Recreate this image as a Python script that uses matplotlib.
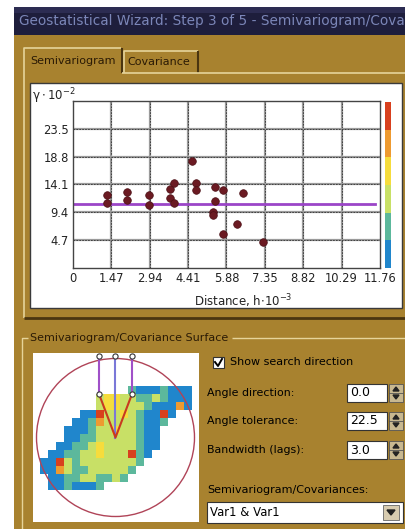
import matplotlib
matplotlib.use('Agg')
import matplotlib.pyplot as plt
import numpy as np
from matplotlib.patches import Rectangle, Circle, Polygon
from matplotlib.colors import ListedColormap

plt.rcParams['font.family'] = ['DejaVu Sans']
plt.rcParams['mathtext.default'] = 'regular'

# semivariogram cloud (distance * 1e-3, gamma * 1e-2)
dist = [1.29, 1.29, 2.07, 2.07, 2.91, 2.91, 3.70, 3.70, 3.87, 3.87, 4.54,
        4.70, 4.70, 5.44, 5.44, 5.36, 5.36, 5.73, 5.73, 6.27, 6.52, 7.29]
gamma = [12.25, 10.9, 12.9, 11.4, 12.4, 10.6, 13.3, 11.9, 14.4, 11.0, 18.0,
         14.4, 13.1, 13.65, 11.3, 9.45, 9.0, 13.1, 5.8, 7.5, 12.65, 4.4]
model_level = 10.85
model_end = 11.56

xticks = [0, 1.47, 2.94, 4.41, 5.88, 7.35, 8.82, 10.29, 11.76]
xlabels = ['0', '1.47', '2.94', '4.41', '5.88', '7.35', '8.82', '10.29', '11.76']
yticks = [4.7, 9.4, 14.1, 18.8, 23.5]
ylabels = ['4.7', '9.4', '14.1', '18.8', '23.5']

# colour scale (bottom -> top)
scale_colors = ['#2086cc', '#5cb89c', '#c8e066', '#f6dc3c', '#ee9a30', '#d8401e']

# surface cells: 0 empty, 1 blue ... 6 red
surface_rows = [
    "00000000000211121110",
    "00000003443322321110",
    "00000003443332111510",
    "00000116334321161000",
    "00001125333321120000",
    "00011123343321100000",
    "00011223333321100000",
    "00112234333321100000",
    "01122334333621000000",
    "11632333333320000000",
    "11532233333200000000",
    "01122332232000000000",
    "01121112000000000000",
]

angle_direction = '0.0'
angle_tolerance = '22.5'
bandwidth = '3.0'

W, H = 406, 529
GOLD = '#a8822f'
LIGHT = '#e6d49a'
DARK = '#4a3510'

fig = plt.figure(figsize=(W / 100, H / 100), dpi=100, facecolor='white')
ui = fig.add_axes([0, 0, 1, 1])
ui.set_xlim(0, W)
ui.set_ylim(H, 0)
ui.axis('off')


def px_axes(x0, y0, x1, y1):
    return fig.add_axes([x0 / W, 1 - y1 / H, (x1 - x0) / W, (y1 - y0) / H])


def box(x, y, w, h, fc, ec='none', lw=0):
    ui.add_patch(Rectangle((x, y), w, h, facecolor=fc, edgecolor=ec, lw=lw))


def line(xs, ys, c, lw=1):
    ui.plot(xs, ys, color=c, lw=lw, solid_capstyle='butt')


# window body and title bar
box(14, 7, W - 14, H - 7, GOLD)
box(14, 7, W - 14, 28, '#1e1e3c')
box(14, 7, W - 14, 6, '#2c2c52')
ui.text(19, 21, 'Geostatistical Wizard: Step 3 of 5 - Semivariogram/Cova',
        color='#7b86b8', fontsize=9.8, va='center', ha='left')

# tabs
box(24, 48, 98, 25, GOLD)
line([24, 24, 121], [73, 48, 48], LIGHT, 1.2)
line([122, 122], [48, 73], DARK, 1.5)
ui.text(30, 61, 'Semivariogram', fontsize=8, va='center', color='#2a1a05')
line([124, 124, 198], [73, 51, 51], LIGHT, 1.2)
line([198, 198], [51, 73], DARK, 1.5)
ui.text(127, 62, 'Covariance', fontsize=8, va='center', color='#2a1a05')
line([24, 24], [73, 318], LIGHT, 1.2)
line([122, W], [73, 73], LIGHT, 1.2)
line([24, W], [318, 318], DARK, 2)

# white plot panel
box(30, 83, 372, 225, 'white', '#3a3a3a', 1)

# semivariogram axes
ax = px_axes(73, 101, 380, 268)
ax.set_xlim(0, 11.76)
ax.set_ylim(0, 28.2)
for v in xticks[1:-1]:
    ax.axvline(v, color='#9a9a9a', lw=1.6, zorder=1)
    ax.axvline(v, color='#333333', lw=0.6, ls=(0, (2, 1.5)), zorder=1)
for v in yticks:
    ax.axhline(v, color='#9a9a9a', lw=1.6, zorder=1)
    ax.axhline(v, color='#333333', lw=0.6, ls=(0, (2, 1.5)), zorder=1)
ax.plot([0, model_end], [model_level, model_level], color='#9b45c8', lw=2, zorder=2)
ax.scatter(dist, gamma, s=30, color='#6b1a22', edgecolors='#4a0f15', lw=0.5, zorder=3)
ax.set_xticks(xticks, xlabels)
ax.set_yticks(yticks, ylabels)
ax.tick_params(length=0, labelsize=8.3, colors='#222222', pad=3)
for s in ax.spines.values():
    s.set_color('#444444')
    s.set_linewidth(1)
ui.text(243, 301, 'Distance, h$\\cdot$10$^{-3}$', fontsize=8.5, ha='center',
        va='center', color='#222222')
ui.text(32, 96, '$\\gamma\\cdot$10$^{-2}$', fontsize=8.5, va='center', color='#222222')

# colour scale strip
cb = px_axes(385, 102, 391, 268)
cb.imshow(np.arange(6).reshape(-1, 1), cmap=ListedColormap(scale_colors),
          origin='lower', aspect='auto', extent=(0, 1, 0, 6))
cb.axis('off')

# surface group box
ui.text(30, 338, 'Semivariogram/Covariance Surface', fontsize=8, va='center', color='#2a1a05')
line([22, 22, 28], [H, 338, 338], LIGHT, 1)
line([232, W], [338, 338], LIGHT, 1)
box(33, 353, 166, 169, 'white')

sf = px_axes(33, 353, 199, 522)
sf.set_xlim(33, 199)
sf.set_ylim(522, 353)
sf.axis('off')
cx, cy, r = 115.5, 437.5, 79
cell = 8
grid = np.array([[int(ch) for ch in row] for row in surface_rows])
grid = np.ma.masked_equal(grid, 0)
x0, y0 = 40, 386
sf.imshow(grid, cmap=ListedColormap(scale_colors), vmin=0.5, vmax=6.5,
          extent=(x0, x0 + cell * grid.shape[1], y0 + cell * grid.shape[0], y0),
          interpolation='nearest', aspect='auto', zorder=1)
sf.add_patch(Circle((cx, cy), r, facecolor='none', edgecolor='#b04458', lw=1, zorder=3))

# search direction
half = 16.5
top_y, side_y = 356, 394
sf.plot([cx - half, cx - half], [top_y, side_y], color='#a050c8', lw=1.5, zorder=4)
sf.plot([cx + half, cx + half], [top_y, side_y], color='#a050c8', lw=1.5, zorder=4)
sf.plot([cx, cx], [top_y, cy], color='#7a78d8', lw=1.5, zorder=4)
sf.plot([cx - half, cx, cx + half], [side_y, cy, side_y], color='#c83a20', lw=1.5, zorder=5)
sf.scatter([cx - half, cx, cx + half, cx - half, cx + half],
           [top_y, top_y, top_y, side_y, side_y], s=14, facecolor='white',
           edgecolor='#333333', lw=0.8, zorder=6)

# controls
box(213, 357, 11, 11, 'white', '#333333', 0.8)
ui.plot([215, 218, 222], [362, 366, 359], color='black', lw=1.4)
ui.text(230, 362, 'Show search direction', fontsize=8, va='center')
fields = [('Angle direction:', angle_direction, 393),
          ('Angle tolerance:', angle_tolerance, 421),
          ('Bandwidth (lags):', bandwidth, 450)]
for label, val, yy in fields:
    ui.text(207, yy, label, fontsize=7.9, va='center')
    box(347, yy - 9, 40, 18, 'white', '#333333', 0.8)
    ui.text(350, yy, val, fontsize=9, va='center')
    box(389, yy - 9, 14, 18, '#c8b890', '#555555', 0.6)
    ui.plot([389, 403], [yy, yy], color='#555555', lw=0.6)
    ui.add_patch(Polygon([[393, yy - 2], [396, yy - 6], [399, yy - 2]], color='#222222'))
    ui.add_patch(Polygon([[393, yy + 2], [396, yy + 6], [399, yy + 2]], color='#222222'))
ui.text(207, 490, 'Semivariogram/Covariances:', fontsize=8, va='center')
box(207, 502, 196, 21, 'white', '#333333', 0.8)
ui.text(210, 513, 'Var1 & Var1', fontsize=8.4, va='center')
box(383, 505, 16, 15, '#d8ccb0', '#666666', 0.6)
ui.add_patch(Polygon([[387, 510], [391, 515], [395, 510]], color='#222222'))

fig.savefig('out.png', dpi=100, facecolor=fig.get_facecolor())
